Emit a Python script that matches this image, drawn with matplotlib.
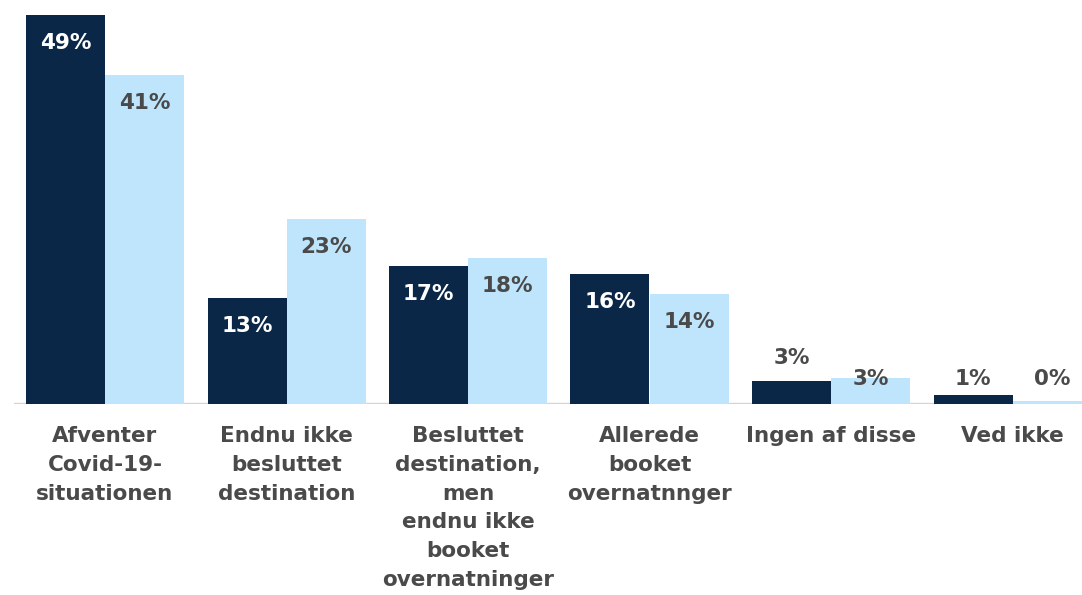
import matplotlib
matplotlib.use("Agg")
import matplotlib.pyplot as plt

categories = ["Afventer\nCovid-19-\nsituationen",
              "Endnu ikke\nbesluttet\ndestination",
              "Besluttet\ndestination,\nmen\nendnu ikke\nbooket\novernatninger",
              "Allerede\nbooket\novernatnnger",
              "Ingen af disse",
              "Ved ikke"]
series_dark = [49, 13.4, 17.4, 16.4, 2.9, 1.1]
series_light = [41.4, 23.3, 18.4, 13.9, 3.3, 0.4]

DARK = "#0b2747"
LIGHT = "#bee5fc"
TXT = "#4a4a4a"

W, H = 1082, 595
fig = plt.figure(figsize=(W / 100, H / 100), dpi=100)
left_px, right_px = 14, 1082
base_px = 404
px_per_unit = 7.94
ymax = 50
ax = fig.add_axes([left_px / W, (H - base_px) / H, (right_px - left_px) / W,
                   ymax * px_per_unit / H])
unit = 181.5
x0 = -(105 - left_px) / unit
x1 = x0 + (right_px - left_px) / unit
ax.set_xlim(x0, x1)
ax.set_ylim(0, ymax)
ax.axis("off")
ax.axhline(0, color="#d4d4d4", lw=2.4, zorder=1)

bw = 79 / unit
font = dict(fontsize=15.5, fontweight="bold", family=["DejaVu Sans"])
for i, (d, l) in enumerate(zip(series_dark, series_light)):
    ax.bar(i - bw / 2, d, width=bw, color=DARK, zorder=2)
    ax.bar(i + bw / 2, l, width=bw, color=LIGHT, zorder=2)
    # dark labels
    if d >= 10:
        ax.annotate(f"{round(d)}%", (i - bw / 2, d), xytext=(0, -28 * 0.72),
                    textcoords="offset points", ha="center", va="center",
                    color="white", **font)
    else:
        off = 23 if d >= 2 else 16
        ax.annotate(f"{round(d)}%", (i - bw / 2, d), xytext=(0, off * 0.72),
                    textcoords="offset points", ha="center", va="center",
                    color=TXT, **font)
    # light labels
    if l >= 10:
        ax.annotate(f"{round(l)}%", (i + bw / 2, l), xytext=(0, -28 * 0.72),
                    textcoords="offset points", ha="center", va="center",
                    color=TXT, **font)
    else:
        ax.annotate(f"{round(l)}%", (i + bw / 2, 0), xytext=(0, 25 * 0.72),
                    textcoords="offset points", ha="center", va="center",
                    color=TXT, **font)
    ax.annotate(categories[i], (i, 0), xytext=(0, -22 * 0.72),
                textcoords="offset points", ha="center", va="top",
                color=TXT, linespacing=1.55, annotation_clip=False, **font)

fig.savefig("out.png", dpi=100)
